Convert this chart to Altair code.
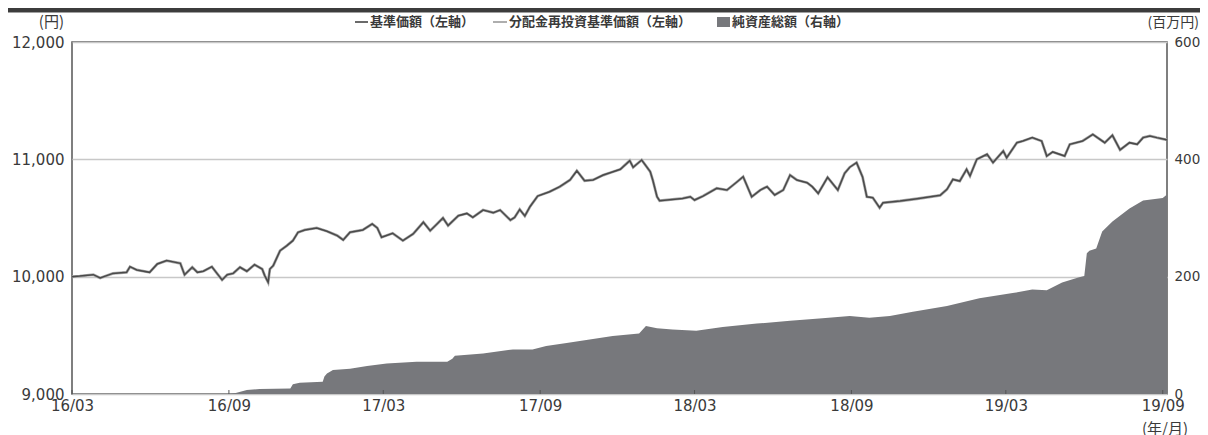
import altair as alt
import pandas as pd

# ---- data ----
nav_dates = [
    "2016-03-01", "2016-03-10", "2016-03-26", "2016-04-03", "2016-04-18", "2016-05-04", "2016-05-08",
    "2016-05-16", "2016-05-31", "2016-06-09", "2016-06-20", "2016-07-06", "2016-07-11", "2016-07-20",
    "2016-07-26", "2016-08-02", "2016-08-12", "2016-08-18", "2016-08-24", "2016-08-30", "2016-09-06",
    "2016-09-14", "2016-09-22", "2016-10-01", "2016-10-10", "2016-10-13", "2016-10-17", "2016-10-19",
    "2016-10-23", "2016-10-31", "2016-11-08", "2016-11-15", "2016-11-21", "2016-11-29", "2016-12-13",
    "2016-12-25", "2017-01-06", "2017-01-13", "2017-01-21", "2017-02-05", "2017-02-16", "2017-02-22",
    "2017-02-27", "2017-03-12", "2017-03-24", "2017-04-05", "2017-04-17", "2017-04-25", "2017-05-03",
    "2017-05-10", "2017-05-16", "2017-05-28", "2017-06-07", "2017-06-14", "2017-06-26", "2017-07-08",
    "2017-07-16", "2017-07-28", "2017-08-02", "2017-08-08", "2017-08-14", "2017-08-20", "2017-08-29",
    "2017-09-12", "2017-09-24", "2017-10-06", "2017-10-14", "2017-10-23", "2017-11-02", "2017-11-14",
    "2017-11-22", "2017-12-04", "2017-12-15", "2017-12-19", "2017-12-29", "2018-01-08", "2018-01-11",
    "2018-01-16", "2018-01-19", "2018-02-15", "2018-02-24", "2018-03-01", "2018-03-11", "2018-03-27",
    "2018-04-08", "2018-04-20", "2018-04-27", "2018-05-07", "2018-05-17", "2018-05-25", "2018-06-03",
    "2018-06-13", "2018-06-21", "2018-06-29", "2018-07-11", "2018-07-17", "2018-07-24", "2018-08-04",
    "2018-08-16", "2018-08-24", "2018-08-30", "2018-09-07", "2018-09-14", "2018-09-19", "2018-09-26",
    "2018-10-04", "2018-10-08", "2018-10-28", "2018-11-17", "2018-12-14", "2018-12-22", "2018-12-29",
    "2019-01-06", "2019-01-14", "2019-01-18", "2019-01-26", "2019-02-07", "2019-02-14", "2019-02-26",
    "2019-03-02", "2019-03-14", "2019-03-21", "2019-04-01", "2019-04-12", "2019-04-18", "2019-04-25",
    "2019-05-09", "2019-05-15", "2019-05-30", "2019-06-11", "2019-06-25", "2019-07-04", "2019-07-13",
    "2019-07-24", "2019-08-02", "2019-08-09", "2019-08-17", "2019-08-25", "2019-09-03", "2019-09-06",
]
nav_values = [
    10000, 10005, 10017, 9989, 10028, 10037, 10085,
    10057, 10037, 10108, 10137, 10114, 10017, 10080,
    10037, 10046, 10085, 10028, 9972, 10017, 10028,
    10080, 10046, 10102, 10065, 10009, 9952, 10065,
    10094, 10222, 10264, 10307, 10378, 10398, 10415,
    10387, 10350, 10313, 10378, 10398, 10449, 10415,
    10336, 10370, 10307, 10364, 10464, 10392, 10449,
    10500, 10435, 10520, 10539, 10505, 10568, 10545,
    10568, 10482, 10505, 10573, 10517, 10596, 10687,
    10724, 10767, 10824, 10903, 10818, 10824, 10866,
    10886, 10915, 10989, 10932, 10994, 10895, 10824,
    10681, 10647, 10667, 10681, 10653, 10687, 10753,
    10738, 10809, 10852, 10681, 10738, 10767, 10696,
    10738, 10866, 10824, 10801, 10767, 10710, 10846,
    10738, 10881, 10933, 10972, 10850, 10681, 10673,
    10588, 10630, 10645, 10664, 10693, 10744, 10829,
    10815, 10915, 10858, 11000, 11043, 10972, 11071,
    11014, 11142, 11156, 11185, 11156, 11028, 11063,
    11028, 11128, 11156, 11213, 11142, 11205, 11080,
    11142, 11128, 11185, 11199, 11185, 11171, 11165,
]
# no distributions were paid, so the reinvested NAV coincides with the NAV
reinvest_values = list(nav_values)

aum_dates = [
    "2016-03-01", "2016-09-01", "2016-09-09", "2016-09-22", "2016-10-07", "2016-11-12", "2016-11-15",
    "2016-11-23", "2016-12-20", "2016-12-22", "2016-12-25", "2017-01-01", "2017-01-21", "2017-02-10",
    "2017-03-05", "2017-04-09", "2017-05-15", "2017-05-21", "2017-05-24", "2017-06-26", "2017-07-31",
    "2017-08-23", "2017-09-08", "2017-10-02", "2017-10-29", "2017-11-25", "2017-12-26", "2018-01-03",
    "2018-01-16", "2018-02-03", "2018-03-03", "2018-04-03", "2018-05-13", "2018-06-21", "2018-07-29",
    "2018-08-30", "2018-09-22", "2018-10-16", "2018-11-12", "2018-12-22", "2019-01-29", "2019-03-09",
    "2019-04-01", "2019-04-18", "2019-05-06", "2019-05-26", "2019-06-01", "2019-06-04", "2019-06-07",
    "2019-06-15", "2019-06-22", "2019-07-04", "2019-07-24", "2019-08-09", "2019-09-01", "2019-09-06",
]
aum_values = [
    0, 0, 1.5, 6.8, 8.5, 9.5, 16.5,
    19, 21, 30, 35, 41, 43, 47.7,
    52, 55, 55, 60, 65, 69, 76,
    76, 82, 87, 93, 99, 103, 116,
    112, 110, 108, 114, 120, 125, 129,
    133, 130, 133, 140, 150, 163, 172,
    178, 177, 190, 199, 201, 240, 244,
    248, 277, 294, 316, 330, 334, 340,
]

tick_dates = ["2016-03-01", "2016-09-01", "2017-03-01", "2017-09-01",
              "2018-03-01", "2018-09-01", "2019-03-01", "2019-09-01"]
left_ticks = [9000, 10000, 11000, 12000]
right_ticks = [0, 200, 400, 600]

legend_labels = ["基準価額（左軸）", "分配金再投資基準価額（左軸）", "純資産総額（右軸）"]
left_unit = "(円)"
right_unit = "(百万円)"
x_unit = "(年/月)"

# ---- styling ----
NUM_FONT = "DejaVu Sans"
CJK_FONT = "Noto Sans CJK JP"
TXT = "#3a3a3a"
W, H = 1095, 352
PAD = {"left": 64, "top": 34, "right": 33, "bottom": 41}

nav_df = pd.DataFrame({"date": nav_dates, "nav": nav_values, "reinvest": reinvest_values})
aum_df = pd.DataFrame({"date": aum_dates, "aum": aum_values})
tick_df = pd.DataFrame({"date": tick_dates})
dummy = pd.DataFrame({"k": [0]})


def dt(s):
    y, m, d = (int(p) for p in s.split("-"))
    return alt.DateTime(year=y, month=m, date=d, utc=True)


x_enc = alt.X(
    "date:T",
    scale=alt.Scale(type="utc", domain=[dt("2016-03-01"), dt("2019-09-06")]),
    axis=alt.Axis(
        values=[dt(s) for s in tick_dates], format="%y/%m", labelFont=NUM_FONT,
        labelFontSize=15, labelColor=TXT, labelPadding=4, ticks=False, domain=False,
        grid=False, title=None, labelOverlap=False, labelFlush=False,
    ),
)

area = alt.Chart(aum_df).mark_area(color="#77787c", interpolate="linear").encode(
    x=x_enc,
    y=alt.Y(
        "aum:Q",
        scale=alt.Scale(domain=[0, 600], nice=False),
        axis=alt.Axis(
            orient="right", values=right_ticks, format="d", labelFont=NUM_FONT,
            labelFontSize=13.5, labelColor=TXT, labelPadding=7, ticks=False,
            domain=False, grid=False, title=None, labelFlush=False,
        ),
    ),
)

reinv_line = alt.Chart(nav_df).mark_line(color="#a8a8a8", strokeWidth=2.8).encode(
    x=x_enc,
    y=alt.Y("reinvest:Q", scale=alt.Scale(domain=[9000, 12000], nice=False, zero=False), axis=None),
)

nav_line = alt.Chart(nav_df).mark_line(color="#4a4a4a", strokeWidth=1.5).encode(
    x=x_enc,
    y=alt.Y(
        "nav:Q",
        scale=alt.Scale(domain=[9000, 12000], nice=False, zero=False),
        axis=alt.Axis(
            orient="left", values=left_ticks, format=",d", labelFont=NUM_FONT,
            labelFontSize=15, labelColor=TXT, labelPadding=8, ticks=False,
            domain=False, grid=True, gridColor="#c8c8c8", gridWidth=1.5, title=None,
            labelFlush=False,
        ),
    ),
)

ticks = alt.Chart(tick_df).mark_rule(color="#555555", strokeWidth=1).encode(
    x=x_enc, y=alt.value(H - 4), y2=alt.value(H)
)


def txt(s, x, y, align="left", font=CJK_FONT, size=13, weight="bold"):
    return alt.Chart(dummy).mark_text(
        text=s, align=align, baseline="middle", font=font, fontSize=size,
        fontWeight=weight, color=TXT,
    ).encode(x=alt.value(x), y=alt.value(y))


header = alt.Chart(dummy).mark_rect(color="#3c3c3c").encode(
    x=alt.value(-PAD["left"]), x2=alt.value(W + PAD["right"]), y=alt.value(-34), y2=alt.value(-30)
)
header_line = alt.Chart(dummy).mark_rect(color="#a0a0a0").encode(
    x=alt.value(-PAD["left"]), x2=alt.value(W + PAD["right"]), y=alt.value(-30), y2=alt.value(-29)
)

leg1 = alt.Chart(dummy).mark_rule(color="#444444", strokeWidth=1.6).encode(
    x=alt.value(283), x2=alt.value(296), y=alt.value(-20)
)
leg2 = alt.Chart(dummy).mark_rule(color="#9a9a9a", strokeWidth=1.6).encode(
    x=alt.value(421), x2=alt.value(435), y=alt.value(-20)
)
leg3 = alt.Chart(dummy).mark_rect(color="#77787c").encode(
    x=alt.value(645), x2=alt.value(658), y=alt.value(-25), y2=alt.value(-15)
)

chart = alt.layer(
    area, reinv_line, nav_line, ticks,
    header, header_line,
    leg1, txt(legend_labels[0], 298, -20),
    leg2, txt(legend_labels[1], 437, -20),
    leg3, txt(legend_labels[2], 660, -20),
    txt(left_unit, -8, -20, align="right", size=15, weight="normal"),
    txt(right_unit, W + 32, -19, align="right", size=14, weight="normal"),
    txt(x_unit, W - 2, H + 35, align="center", size=15, weight="normal"),
).resolve_scale(y="independent").properties(
    width=W, height=H,
    padding=PAD,
    autosize=alt.AutoSizeParams(type="none"),
).configure_view(stroke="#555555", strokeWidth=1.5)

chart.save("out.html", embed_options={"renderer": "svg", "actions": False})
